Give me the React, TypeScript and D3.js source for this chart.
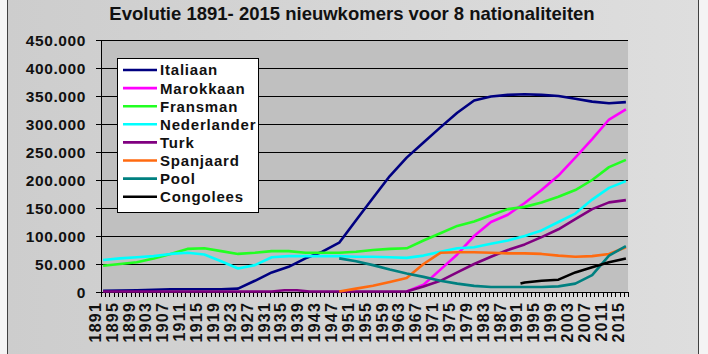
import React from 'react';
import * as d3 from 'd3';

type Pt = [number, number];

const years: number[] = d3.range(1891, 2016);
const yTicks = [0, 50000, 100000, 150000, 200000, 250000, 300000, 350000, 400000, 450000];
const labelYears = years.filter((y) => (y - 1891) % 4 === 0);

const italiaan: Pt[] = [
  [1891, 2000], [1895, 2500], [1899, 3000], [1903, 4000], [1907, 5000], [1911, 5000],
  [1915, 5000], [1919, 5000], [1923, 6000], [1927, 20000], [1931, 35000], [1935, 45000],
  [1939, 60000], [1943, 72000], [1947, 88000], [1951, 128000], [1955, 168000], [1959, 207000],
  [1963, 240000], [1967, 267000], [1971, 294000], [1975, 320000], [1979, 342000], [1983, 349000],
  [1987, 352000], [1991, 353000], [1995, 352000], [1999, 350000], [2003, 345000], [2007, 340000],
  [2011, 337000], [2015, 339000],
];
const marokkaan: Pt[] = [
  [1963, 1000], [1967, 13000], [1971, 40000], [1975, 67000], [1979, 100000], [1983, 125000],
  [1987, 138000], [1991, 159000], [1995, 182000], [1999, 208000], [2003, 240000], [2007, 273000],
  [2011, 308000], [2015, 326000],
];
const fransman: Pt[] = [
  [1891, 47000], [1895, 50000], [1899, 53000], [1903, 60000], [1907, 68000], [1911, 77000],
  [1915, 78000], [1919, 73000], [1923, 68000], [1927, 70000], [1931, 73000], [1935, 73000],
  [1939, 70000], [1943, 70000], [1947, 70000], [1951, 72000], [1955, 75000], [1959, 77000],
  [1963, 78000], [1967, 92000], [1971, 105000], [1975, 118000], [1979, 126000], [1983, 137000],
  [1987, 148000], [1991, 152000], [1995, 160000], [1999, 170000], [2003, 182000], [2007, 200000],
  [2011, 223000], [2015, 236000],
];
const nederlander: Pt[] = [
  [1891, 57000], [1895, 60000], [1899, 62000], [1903, 64000], [1907, 68000], [1911, 70000],
  [1915, 67000], [1919, 55000], [1923, 42000], [1927, 48000], [1931, 62000], [1935, 64000],
  [1939, 64000], [1943, 64000], [1947, 64000], [1951, 63000], [1955, 63000], [1959, 62000],
  [1963, 61000], [1967, 65000], [1971, 72000], [1975, 78000], [1979, 80000], [1983, 86000],
  [1987, 92000], [1991, 100000], [1995, 110000], [1999, 125000], [2003, 140000], [2007, 165000],
  [2011, 186000], [2015, 198000],
];
const turk: Pt[] = [
  [1891, 1000], [1931, 1000], [1934, 3000], [1937, 3000], [1940, 1000], [1963, 1000],
  [1967, 10000], [1971, 20000], [1975, 35000], [1979, 50000], [1983, 63000], [1987, 75000],
  [1991, 85000], [1995, 98000], [1999, 112000], [2003, 130000], [2007, 148000], [2011, 160000],
  [2015, 164000],
];
const spanjaard: Pt[] = [
  [1947, 1000], [1951, 6000], [1955, 11000], [1959, 18000], [1963, 25000], [1967, 50000],
  [1971, 70000], [1975, 71000], [1979, 71000], [1983, 70000], [1987, 69000], [1991, 69000],
  [1995, 68000], [1999, 65000], [2003, 63000], [2007, 64000], [2011, 68000], [2015, 80000],
];
const pool: Pt[] = [
  [1947, 60000], [1951, 55000], [1955, 48000], [1959, 40000], [1963, 33000], [1967, 27000],
  [1971, 20000], [1975, 15000], [1979, 11000], [1983, 9000], [1987, 9000], [1991, 9000],
  [1995, 9000], [1999, 10000], [2003, 15000], [2007, 30000], [2011, 65000], [2015, 82000],
];
const congolees: Pt[] = [
  [1990, 15000], [1991, 17000], [1995, 20000], [1999, 22000], [2003, 35000], [2007, 44000],
  [2011, 53000], [2015, 60000],
];

const series = [
  { name: 'Italiaan', color: '#000080', data: italiaan },
  { name: 'Marokkaan', color: '#ff00ff', data: marokkaan },
  { name: 'Fransman', color: '#22ff22', data: fransman },
  { name: 'Nederlander', color: '#00ffff', data: nederlander },
  { name: 'Turk', color: '#800080', data: turk },
  { name: 'Spanjaard', color: '#ff6a10', data: spanjaard },
  { name: 'Pool', color: '#008080', data: pool },
  { name: 'Congolees', color: '#000000', data: congolees },
];

const W = 708;
const H = 354;
const margin = { top: 40, right: 80, bottom: 62, left: 101 };

export default function App() {
  const x = d3.scaleBand<number>().domain(years).range([margin.left, W - margin.right]);
  const y = d3.scaleLinear().domain([0, 450000]).range([H - margin.bottom, margin.top]);
  const cx = (yr: number) => (x(yr) ?? 0) + x.bandwidth() / 2;
  // for years in between categories
  const xPos = (yr: number) => cx(1891) + (yr - 1891) * x.step();

  const line = d3.line<Pt>().x((d) => xPos(d[0])).y((d) => y(d[1]));
  const fmt = (v: number) => (v === 0 ? '0' : d3.format(',')(v).replace(/,/g, '.'));

  const plotBottom = H - margin.bottom;
  const plotRight = W - margin.right;

  return (
    <svg width={W} height={H} style={{ position: 'absolute', left: 0, top: 0 }} fontFamily="Liberation Sans, Arial, sans-serif">
      <defs>
        <linearGradient id="bg" x1="0" x2="1" y1="0" y2="0">
          <stop offset="0" stopColor="#cdcdcd" />
          <stop offset="1" stopColor="#dedede" />
        </linearGradient>
      </defs>
      <rect x={0} y={0} width={W} height={H} fill="#f4f4f4" />
      <rect x={7.5} y={-1} width={691} height={H + 2} fill="url(#bg)" stroke="#404040" strokeWidth={1} />
      <rect x={margin.left} y={margin.top} width={plotRight - margin.left} height={plotBottom - margin.top} fill="#c0c0c0" />

      {yTicks.map((t) => (
        <g key={t}>
          <line x1={margin.left} x2={plotRight} y1={Math.round(y(t)) + 0.5} y2={Math.round(y(t)) + 0.5} stroke="#000" strokeWidth={1} />
          <line x1={margin.left - 5} x2={margin.left} y1={Math.round(y(t)) + 0.5} y2={Math.round(y(t)) + 0.5} stroke="#000" />
          <text x={86} y={y(t)} dy="0.36em" textAnchor="end" fontWeight="bold" fontSize={15.5} letterSpacing={0.6} fill="#111">
            {fmt(t)}
          </text>
        </g>
      ))}
      <line x1={margin.left + 0.5} x2={margin.left + 0.5} y1={margin.top} y2={plotBottom} stroke="#000" />
      <line x1={margin.left} x2={plotRight} y1={plotBottom + 0.5} y2={plotBottom + 0.5} stroke="#000" />
      {[...years, 2016].map((yr) => {
        const xx = Math.round(yr === 2016 ? plotRight : x(yr) ?? 0) + 0.5;
        return <line key={yr} x1={xx} x2={xx} y1={plotBottom} y2={plotBottom + 5} stroke="#000" />;
      })}
      {labelYears.map((yr) => (
        <text
          key={yr}
          transform={`translate(${cx(yr) - 8},${plotBottom + 10}) rotate(-90)`}
          textAnchor="end"
          dy="0.36em"
          fontWeight="bold"
          fontSize={16}
          letterSpacing={1.2}
          fill="#111"
        >
          {yr}
        </text>
      ))}

      {series.map((s) => (
        <path key={s.name} d={line(s.data) ?? ''} fill="none" stroke={s.color} strokeWidth={2.6} strokeLinejoin="round" />
      ))}

      <text x={352} y={20} textAnchor="middle" fontFamily="Liberation Sans Narrow, Arial Narrow, sans-serif" fontWeight="bold" fontSize={18.5} fill="#111">
        Evolutie 1891- 2015 nieuwkomers voor 8 nationaliteiten
      </text>

      <g>
        <rect x={117.5} y={58.5} width={141} height={154} fill="#fff" stroke="#000" />
        {series.map((s, i) => {
          const ly = 70 + i * 18.1;
          return (
            <g key={s.name}>
              <line x1={123} x2={157} y1={ly} y2={ly} stroke={s.color} strokeWidth={2.6} />
              <text x={160} y={ly} dy="0.36em" fontWeight="bold" fontSize={15} letterSpacing={0.8} fill="#111">
                {s.name}
              </text>
            </g>
          );
        })}
      </g>
    </svg>
  );
}
